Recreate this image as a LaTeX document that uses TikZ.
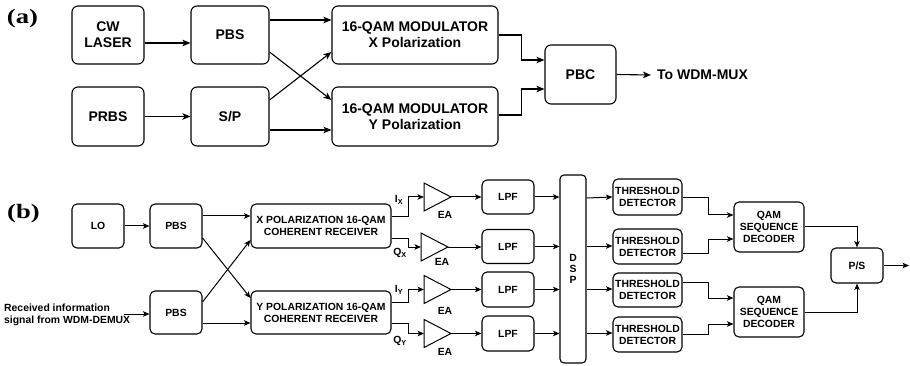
\documentclass[tikz,border=0pt]{standalone}
\usepackage{fontspec}
\setmainfont{Liberation Sans}
\newfontfamily\labfont{Liberation Serif}
\usetikzlibrary{arrows.meta,calc}
\begin{document}
\begin{tikzpicture}[x=1pt,y=-1pt,
  box/.style={draw,rounded corners=6pt,line width=1.1pt,inner sep=0pt,align=center,
    font=\fontsize{14}{16}\selectfont\bfseries},
  sbox/.style={draw,rounded corners=5pt,line width=1.1pt,inner sep=0pt,align=center,
    font=\fontsize{10.4}{12}\selectfont\bfseries},
  arr/.style={line width=1.1pt,-{Stealth[length=8pt,width=6.5pt,inset=2pt]}},
  sarr/.style={line width=1pt,-{Stealth[length=6.5pt,width=5.5pt,inset=1.6pt]}},
  wire/.style={line width=1pt,line join=miter},
  stxt/.style={font=\fontsize{10.4}{12}\selectfont\bfseries,inner sep=0pt,align=left},
  btxt/.style={font=\fontsize{14}{16}\selectfont\bfseries,inner sep=0pt},
  plab/.style={font=\fontsize{20.5}{22}\selectfont\labfont\bfseries,inner sep=0pt,xscale=1.3}
]
\useasboundingbox (0,0) rectangle (910,366);

% ---------- (a) ----------
\node[plab] (la) at (22.5,19) {(a)};
\node[box,minimum width=72pt,minimum height=58pt] (cw) at (108,35) {CW\\LASER};
\node[box,minimum width=78pt,minimum height=58pt] (pbsA) at (230,35) {PBS};
\node[box,minimum width=166pt,minimum height=58pt] (modx) at (415,35) {16-QAM MODULATOR\\X Polarization};
\node[box,minimum width=72pt,minimum height=59pt] (prbs) at (108,116.5) {PRBS};
\node[box,minimum width=78pt,minimum height=59pt] (sp) at (230,116.5) {S/P};
\node[box,minimum width=166pt,minimum height=59pt] (mody) at (415,116.5) {16-QAM MODULATOR\\Y Polarization};
\node[box,minimum width=71pt,minimum height=59pt] (pbc) at (580.5,74.5) {PBC};
\node[btxt,anchor=west] (tomux) at (657,75) {To WDM-MUX};

\draw[arr] (cw.east|-0,43) -- (pbsA.west|-0,43);
\draw[arr] (prbs) -- (sp);
\draw[arr] (pbsA.east|-0,20) -- (modx.west|-0,20);
\draw[arr] (pbsA.east|-0,52) -- (mody.west|-0,100);
\draw[arr] (sp.east|-0,100) -- (modx.west|-0,52);
\draw[arr] (sp.east|-0,130) -- (mody.west|-0,130);
\draw[arr] (modx.east) -- ++(23,0) |- (pbc.west|-0,60);
\draw[arr] (mody.east|-0,115) -- ++(23,0) |- (pbc.west|-0,89);
\draw[arr] (pbc.east) -- ($(tomux.west)+(-6,0)$);

% ---------- (b) ----------
\node[plab] (lb) at (23.5,214) {(b)};
\node[sbox,minimum width=52pt,minimum height=44pt] (lo) at (98,226) {LO};
\node[sbox,minimum width=52pt,minimum height=44pt] (pbs1) at (176,226) {PBS};
\node[sbox,minimum width=140pt,minimum height=44pt] (xrec) at (321,226) {X POLARIZATION 16-QAM\\COHERENT RECEIVER};
\node[sbox,minimum width=52pt,minimum height=43pt] (pbs2) at (176,312.5) {PBS};
\node[sbox,minimum width=140pt,minimum height=43pt] (yrec) at (321,312.5) {Y POLARIZATION 16-QAM\\COHERENT RECEIVER};
\node[stxt,anchor=west] (rtxt) at (4,314.5) {Received information\\signal from WDM-DEMUX};
\coordinate (rin) at (124,314);

\draw[sarr] (lo) -- (pbs1);
\draw[sarr] (rin) -- (pbs2.west|-rin);
\draw[sarr] (pbs1.east|-0,216) -- (xrec.west|-0,216);
\draw[sarr] (pbs1.east|-0,238) -- (yrec.west|-0,298);
\draw[sarr] (pbs2.east|-0,302) -- (xrec.west|-0,240);
\draw[sarr] (pbs2.east|-0,323) -- (yrec.west|-0,323);

% amplifiers (EA)
\foreach \n/\x/\y in {1/424/197,2/421/247,3/424/289.5,4/424/333.5}{
  \coordinate (ea\n) at (\x,\y);
  \coordinate (ea\n o) at (\x+27,\y);
  \draw[wire] (\x,\y-14) -- (\x+27,\y) -- (\x,\y+14) -- cycle;
}
\node[stxt] (eal1) at (445,215) {EA};
\node[stxt] (eal2) at (442,262) {EA};
\node[stxt] (eal3) at (445,311) {EA};
\node[stxt] (eal4) at (445,352) {EA};

\node[stxt] (lix) at (399,200) {I\textsubscript{X}};
\node[stxt] (lqx) at (400,253) {Q\textsubscript{X}};
\node[stxt] (liy) at (399,290) {I\textsubscript{Y}};
\node[stxt] (lqy) at (400,341) {Q\textsubscript{Y}};

\draw[sarr] (xrec.east|-0,217) -- (408,217) |- (ea1);
\draw[sarr] (xrec.east|-0,238) -- (408,238) |- (ea2);
\draw[sarr] (yrec.east|-0,302) -- (408,302) |- (ea3);
\draw[sarr] (yrec.east|-0,323) -- (408,323) |- (ea4);

% LPFs
\node[sbox,minimum width=52pt,minimum height=34pt] (lpf1) at (508,197) {LPF};
\node[sbox,minimum width=52pt,minimum height=34pt] (lpf2) at (508,246.5) {LPF};
\node[sbox,minimum width=52pt,minimum height=35pt] (lpf3) at (508,289.5) {LPF};
\node[sbox,minimum width=52pt,minimum height=35pt] (lpf4) at (508,333.5) {LPF};
\draw[sarr] (ea1o) -- (lpf1.west|-ea1o);
\draw[sarr] (ea2o) -- (lpf2.west|-ea2o);
\draw[sarr] (ea3o) -- (lpf3.west|-ea3o);
\draw[sarr] (ea4o) -- (lpf4.west|-ea4o);

% DSP
\node[sbox,minimum width=26pt,minimum height=188pt,rounded corners=4pt,font=\fontsize{10.4}{11}\selectfont\bfseries] (dsp) at (573,269) {D\\S\\P};
\draw[sarr] (lpf1) -- (dsp.west|-lpf1);
\draw[sarr] (lpf2) -- (dsp.west|-lpf2);
\draw[sarr] (lpf3) -- (dsp.west|-lpf3);
\draw[sarr] (lpf4) -- (dsp.west|-lpf4);

% threshold detectors
\node[sbox,minimum width=69pt,minimum height=36pt] (td1) at (647.5,197) {THRESHOLD\\DETECTOR};
\node[sbox,minimum width=69pt,minimum height=35pt] (td2) at (647.5,246.5) {THRESHOLD\\DETECTOR};
\node[sbox,minimum width=69pt,minimum height=34pt] (td3) at (647.5,290) {THRESHOLD\\DETECTOR};
\node[sbox,minimum width=69pt,minimum height=35pt] (td4) at (647.5,334.5) {THRESHOLD\\DETECTOR};
\draw[sarr] (dsp.east|-0,198) -- (td1.west|-0,197);
\draw[sarr] (dsp.east|-0,246) -- (td2.west|-0,246);
\draw[sarr] (dsp.east|-0,289) -- (td3.west|-0,289);
\draw[sarr] (dsp.east|-0,333) -- (td4.west|-0,333);

% decoders
\node[sbox,minimum width=70pt,minimum height=50pt] (dec1) at (769,227) {QAM\\SEQUENCE\\DECODER};
\node[sbox,minimum width=70pt,minimum height=50pt] (dec2) at (769,312) {QAM\\SEQUENCE\\DECODER};
\draw[sarr] (td1.east|-0,198) -- (708,198) |- (dec1.west|-0,215);
\draw[sarr] (td2.east|-0,253) -- (708,253) |- (dec1.west|-0,239);
\draw[sarr] (td3.east|-0,282) -- (708,282) |- (dec2.west|-0,298);
\draw[sarr] (td4.east|-0,334) -- (708,334) |- (dec2.west|-0,324);

% P/S
\node[sbox,minimum width=52pt,minimum height=35pt] (ps) at (857,265.5) {P/S};
\coordinate (psout) at (909,265.5);
\draw[sarr] (dec1.east) -| (ps.north);
\draw[sarr] (dec2.east) -| (ps.south);
\draw[sarr] (ps.east) -- (psout);
\end{tikzpicture}
\end{document}
